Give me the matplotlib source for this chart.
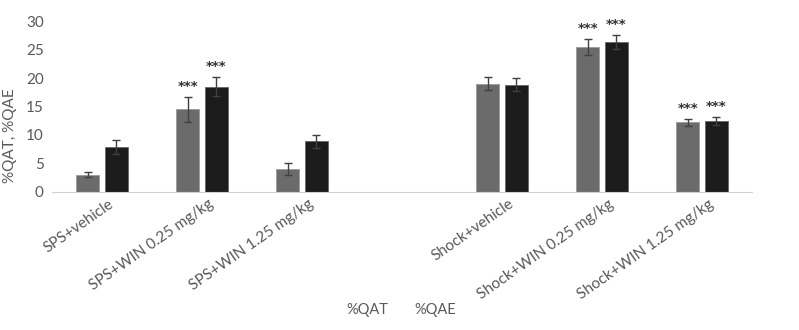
import numpy as np
import matplotlib
matplotlib.use('Agg')
import matplotlib.pyplot as plt
import matplotlib.transforms as mt

plt.rcParams['font.family'] = ['Lato', 'DejaVu Sans']

# data
groups = ['SPS+vehicle', 'SPS+WIN 0.25 mg/kg', 'SPS+WIN 1.25 mg/kg', '',
          'Shock+vehicle', 'Shock+WIN 0.25 mg/kg', 'Shock+WIN 1.25 mg/kg']
qat = [3.0, 14.5, 4.0, np.nan, 19.0, 25.5, 12.2]
qat_err = [0.5, 2.2, 1.05, np.nan, 1.15, 1.45, 0.65]
qae = [7.9, 18.5, 8.85, np.nan, 18.8, 26.4, 12.4]
qae_err = [1.2, 1.7, 1.1, np.nan, 1.15, 1.2, 0.7]
qat_sig = ['', '***', '', '', '', '***', '***']
qae_sig = ['', '***', '', '', '', '***', '***']

txt = '#595959'
c_qat = '#6b6b6b'
c_qae = '#1b1b1b'

x = np.arange(len(groups))
w = 0.225
off = 0.143

fig = plt.figure(figsize=(7.99, 3.30), dpi=100)
ax = fig.add_axes([52/799, 1 - 191.5/330, 700/799, 170/330])

ekw = dict(ecolor='#404040', elinewidth=1.0, capsize=3, capthick=1.0)
ax.bar(x - off, qat, w, color=c_qat, edgecolor='#9a9a9a', linewidth=0.6,
       yerr=qat_err, error_kw=ekw, label='%QAT')
ax.bar(x + off, qae, w, color=c_qae, edgecolor='#666666', linewidth=0.6,
       yerr=qae_err, error_kw=ekw, label='%QAE')

for xs, vals, errs, sig in [(x - off, qat, qat_err, qat_sig),
                            (x + off, qae, qae_err, qae_sig)]:
    for xi, v, e, s in zip(xs, vals, errs, sig):
        if s:
            ax.annotate(s, (xi, v + e), xytext=(0, 3), textcoords='offset points',
                        ha='center', va='bottom', fontsize=9.5,
                        fontweight='bold', color='#333333', family='DejaVu Sans')

ax.set_xlim(-0.5, len(groups) - 0.5)
ax.set_ylim(0, 30)
ax.set_yticks(np.arange(0, 31, 5))
ax.set_xticks(x)
ax.set_xticklabels(groups, rotation=35, ha='right', rotation_mode='anchor')
ax.tick_params(axis='both', length=0, colors=txt, labelsize=11)
ax.tick_params(axis='x', pad=4)
ax.tick_params(axis='y', pad=6)
shift = mt.ScaledTranslation(6/100, 0, fig.dpi_scale_trans)
for lab in ax.get_xticklabels():
    lab.set_transform(lab.get_transform() + shift)
for s in ['top', 'right', 'left']:
    ax.spines[s].set_visible(False)
ax.spines['bottom'].set_color('#d0d0d0')

ax.set_ylabel('%QAT, %QAE', color=txt, fontsize=11)
ax.yaxis.set_label_coords(-0.05, 0.33)

leg = ax.legend(ncol=2, frameon=False, handlelength=0, handletextpad=0,
                columnspacing=1.8, loc='center', fontsize=10.5,
                bbox_to_anchor=(401/799, 1 - 310/330),
                bbox_transform=fig.transFigure)
for t in leg.get_texts():
    t.set_color(txt)
for h in leg.legend_handles:
    h.set_visible(False)

plt.savefig('out.png', dpi=100)
